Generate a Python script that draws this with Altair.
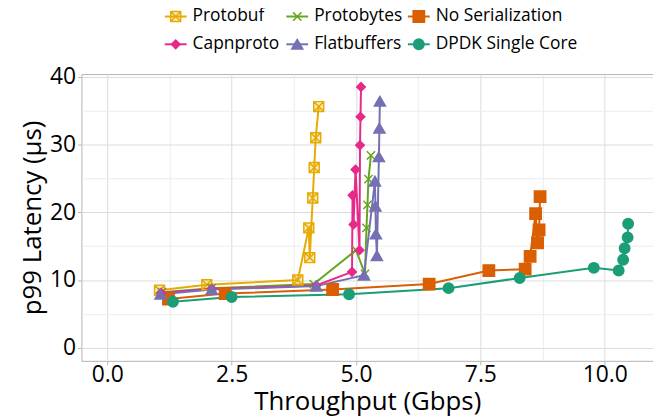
import altair as alt
import pandas as pd

series = ["Protobuf", "Protobytes", "No Serialization", "Capnproto", "Flatbuffers", "DPDK Single Core"]

protobuf_x = [1.05, 2.0, 3.83, 4.05, 4.07, 4.13, 4.16, 4.19, 4.25]
protobuf_y = [8.5, 9.3, 10.0, 17.7, 13.3, 22.1, 26.6, 31.0, 35.6]

protobytes_x = [1.1, 2.1, 4.15, 5.0, 5.18, 5.21, 5.23, 5.25, 5.3]
protobytes_y = [8.2, 8.8, 9.4, 14.4, 10.9, 17.7, 21.1, 24.9, 28.4]

noser_x = [1.23, 2.37, 4.53, 6.47, 7.67, 8.4, 8.5, 8.61, 8.65, 8.68, 8.7]
noser_y = [7.2, 8.0, 8.6, 9.4, 11.4, 11.6, 13.5, 19.8, 15.5, 17.4, 22.3]

capnproto_x = [1.08, 2.1, 4.2, 4.92, 4.93, 4.95, 4.99, 5.07, 5.08, 5.09, 5.1]
capnproto_y = [8.1, 8.7, 9.2, 11.2, 22.5, 18.2, 26.3, 14.4, 29.9, 34.1, 38.5]

flatbuffers_x = [1.07, 2.1, 4.2, 5.16, 5.38, 5.39, 5.4, 5.42, 5.46, 5.47, 5.48]
flatbuffers_y = [7.9, 8.6, 9.1, 10.7, 24.6, 20.9, 16.8, 13.6, 28.2, 32.4, 36.4]

dpdk_x = [1.32, 2.5, 4.86, 6.86, 8.29, 9.78, 10.28, 10.37, 10.4, 10.46, 10.47]
dpdk_y = [6.8, 7.5, 7.9, 8.8, 10.3, 11.8, 11.4, 13.0, 14.7, 16.3, 18.3]

x_ticks = [0, 1.25, 2.5, 3.75, 5, 6.25, 7.5, 8.75, 10]
y_ticks = [0, 5, 10, 15, 20, 25, 30, 35, 40]

# styles
colors = ["#E6AB02", "#66A61E", "#D95F02", "#E7298A", "#7570B3", "#1B9E77"]
fills = ["rgba(230,171,2,0.25)", "transparent", "#D95F02", "#E7298A", "#7570B3", "#1B9E77"]
shapes = ["M-1,-1H1V1H-1Z M-1,-1L1,1 M-1,1L1,-1", "M-1,-1L1,1 M-1,1L1,-1",
          "square", "diamond", "triangle-up", "circle"]
sizes = [100, 70, 130, 75, 125, 110]

all_x = [protobuf_x, protobytes_x, noser_x, capnproto_x, flatbuffers_x, dpdk_x]
all_y = [protobuf_y, protobytes_y, noser_y, capnproto_y, flatbuffers_y, dpdk_y]
rows = []
for name, xs, ys in zip(series, all_x, all_y):
    for a, b in zip(xs, ys):
        rows.append({"series": name, "tput": a, "lat": b})
df = pd.DataFrame(rows)
leg_df = pd.DataFrame({"series": series, "idx": list(range(len(series)))})

FONT = "Open Sans"
color_scale = alt.Scale(domain=series, range=colors)
fill_scale = alt.Scale(domain=series, range=fills)
shape_scale = alt.Scale(domain=series, range=shapes)
size_scale = alt.Scale(type="ordinal", domain=series, range=sizes)

grid_x = {"condition": {"test": "datum.value % 2.5 == 0", "value": "#dcdcdc"}, "value": "#ececec"}
grid_y = {"condition": {"test": "datum.value % 10 == 0", "value": "#dcdcdc"}, "value": "#ececec"}
tick_x = {"condition": {"test": "datum.value % 2.5 == 0", "value": 1}, "value": 0}
tick_y = {"condition": {"test": "datum.value % 10 == 0", "value": 1}, "value": 0}

X = alt.X("tput:Q", scale=alt.Scale(domain=[-0.52, 10.97], nice=False, zero=False),
          axis=alt.Axis(values=x_ticks, title="Throughput (Gbps)", gridColor=grid_x, tickOpacity=tick_x,
                        labelExpr="datum.value % 2.5 == 0 ? format(datum.value, '.1f') : ''",
                        labelOverlap=False, labelFlush=False, labelPadding=-1, titlePadding=2))
Y = alt.Y("lat:Q", scale=alt.Scale(domain=[-1.93, 40.4], nice=False, zero=False),
          axis=alt.Axis(values=y_ticks, title="p99 Latency (µs)", gridColor=grid_y, tickOpacity=tick_y,
                        labelExpr="datum.value % 10 == 0 ? datum.label : ''",
                        labelOverlap=False, labelFlush=False, labelPadding=2, titlePadding=4))

base = alt.Chart(df)
lines = base.mark_line(strokeWidth=2).encode(
    x=X, y=Y, color=alt.Color("series:N", scale=color_scale, legend=None))
points = base.mark_point(strokeWidth=1.5, opacity=1).encode(
    x=X, y=Y,
    stroke=alt.Stroke("series:N", scale=color_scale, legend=None),
    fill=alt.Fill("series:N", scale=fill_scale, legend=None),
    shape=alt.Shape("series:N", scale=shape_scale, legend=None),
    size=alt.Size("series:N", scale=size_scale, legend=None),
)
main = alt.layer(lines, points)

lb = alt.Chart(leg_df).transform_calculate(
    col="datum.idx % 3", row="floor(datum.idx / 3)")
LX = alt.X("col:Q", scale=alt.Scale(domain=[0, 2], range=[95, 340]), axis=None)
LY = alt.Y("row:Q", scale=alt.Scale(domain=[0, 1], range=[-58, -30]), axis=None)
leg_rule = lb.mark_rule(strokeWidth=2, xOffset=-11, x2Offset=11).encode(
    x=LX, x2="col:Q", y=LY, color=alt.Color("series:N", scale=color_scale, legend=None))
leg_pts = lb.mark_point(strokeWidth=1.5, opacity=1).encode(
    x=LX, y=LY,
    stroke=alt.Stroke("series:N", scale=color_scale, legend=None),
    fill=alt.Fill("series:N", scale=fill_scale, legend=None),
    shape=alt.Shape("series:N", scale=shape_scale, legend=None),
    size=alt.Size("series:N", scale=size_scale, legend=None),
)
leg_txt = lb.mark_text(align="left", baseline="middle", dx=17, fontSize=17.5, font=FONT, color="#000").encode(
    x=LX, y=LY, text="series:N")
legend = alt.layer(leg_rule, leg_pts, leg_txt)

chart = alt.layer(main, legend).resolve_scale(x="independent", y="independent").properties(
    width=576, height=289, padding={"left": 11, "top": -2, "right": 0, "bottom": 0}
).configure_view(stroke="#b3b3b3", strokeWidth=1).configure_axis(
    labelFont=FONT, titleFont=FONT, labelFontSize=23, titleFontSize=26,
    labelColor="#000", titleColor="#000", titleFontWeight="normal",
    tickColor="#b3b3b3", tickSize=4, domain=False,
    gridWidth=1,
)

chart.save("out.html", embed_options={"renderer": "svg", "actions": False})
